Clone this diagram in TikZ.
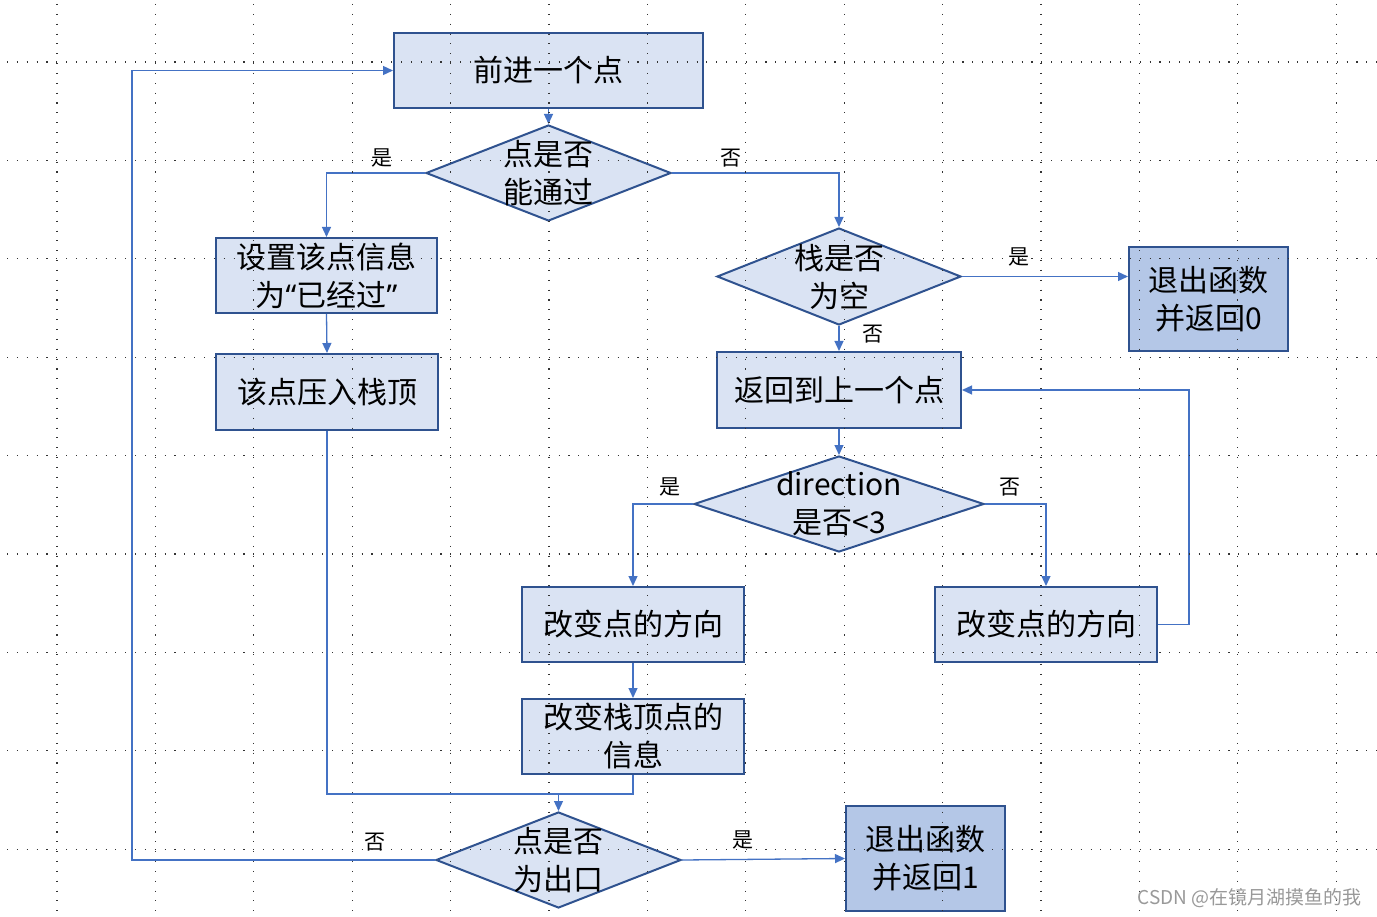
\documentclass[tikz,border=0pt]{standalone}
\usepackage{fontspec}
\setmainfont{Noto Sans CJK SC}
\newfontfamily\qfont{Noto Sans}
\usetikzlibrary{shapes.geometric,arrows.meta}
\definecolor{boxf}{HTML}{DAE3F3}
\definecolor{boxd}{HTML}{B4C7E7}
\definecolor{boxb}{HTML}{2F528F}
\definecolor{lnc}{HTML}{4472C4}
\tikzset{
  box/.style={draw=boxb, fill=boxf, line width=2pt, inner sep=0pt, align=center,
    font=\fontsize{30}{38}\selectfont},
  darkbox/.style={box, fill=boxd},
  dia/.style={draw=boxb, fill=boxf, line width=2pt, shape=diamond, inner sep=0pt},
  dtxt/.style={align=center, inner sep=0pt, font=\fontsize{30}{38}\selectfont},
  conn/.style={draw=lnc, line width=1.3pt, -{Triangle[length=10pt,width=9pt]}},
  plain/.style={draw=lnc, line width=1.3pt},
  lbl/.style={inner sep=0pt, font=\fontsize{21}{24}\selectfont},
  griddot/.style={line width=1.1pt, dash pattern=on 1.1pt off 8.75pt, black!80}
}
\begin{document}
\begin{tikzpicture}[x=1pt,y=1pt]
\useasboundingbox (0,0) rectangle (1377,-917);
\fill[white] (0,0) rectangle (1377,-917);

% nodes
\node[box, minimum width=309pt, minimum height=75pt] (b1) at (548.5,-70.5) {前进一个点};
\node[dia, minimum width=245pt, minimum height=96pt] (d2) at (548.5,-173) {};
\node[dtxt] (t2) at (d2) {点是否\\能通过};
\node[box, minimum width=221pt, minimum height=75pt] (b3) at (326.5,-275.5) {设置该点信息\\为{\qfont “}已经过{\qfont ”}};
\node[box, minimum width=222pt, minimum height=76pt] (b4) at (327,-392) {该点压入栈顶};
\node[dia, minimum width=244pt, minimum height=97pt] (d5) at (839,-276.5) {};
\node[dtxt] (t5) at (d5) {栈是否\\为空};
\node[darkbox, minimum width=159pt, minimum height=104pt] (b6) at (1208.5,-299) {退出函数\\并返回0};
\node[box, minimum width=244pt, minimum height=76pt] (b7) at (839,-390) {返回到上一个点};
\node[dia, minimum width=290pt, minimum height=96pt] (d8) at (839,-504) {};
\node[dtxt] (t8) at (d8) {direction\\是否<3};
\node[box, minimum width=222pt, minimum height=75pt] (b9) at (633,-624.5) {改变点的方向};
\node[box, minimum width=222pt, minimum height=75pt] (b10) at (1046,-624.5) {改变点的方向};
\node[box, minimum width=222pt, minimum height=75pt] (b11) at (633,-736.5) {改变栈顶点的\\信息};
\node[dia, minimum width=245pt, minimum height=96pt] (d12) at (558.5,-860) {};
\node[dtxt] (t12) at (d12) {点是否\\为出口};
\node[darkbox, minimum width=159pt, minimum height=105pt] (b13) at (925.5,-858.5) {退出函数\\并返回1};

% connectors
\coordinate (mj) at (558.5,-794);
\draw[conn] (b1.south) -- (d2.north);
\draw[conn] (d2.west) -| (b3.north);
\draw[conn] (d2.east) -| (d5.north);
\draw[conn] (b3.south) -- (b4.north);
\draw[conn] (d5.east) -- (d5.east -| b6.west);
\draw[conn] (d5.south) -- (b7.north);
\draw[conn] (b7.south) -- (d8.north);
\draw[conn] (d8.west) -| (b9.north);
\draw[conn] (d8.east) -| (b10.north);
\draw[conn] (b10.east) -- ++(31,0) |- (b7.east);
\draw[conn] (b9.south) -- (b11.north);
\draw[conn] (b4.south) |- (mj) -- (d12.north);
\draw[plain] (b11.south) |- (mj);
\draw[conn] (d12.west) -- ++(-303,0) |- (b1.west);
\draw[conn] (d12.east) -- (b13.west);

% labels
\node[lbl] (l1) at (382,-158) {是};
\node[lbl] (l2) at (731,-158) {否};
\node[lbl] (l3) at (1019,-257) {是};
\node[lbl] (l4) at (873,-334) {否};
\node[lbl] (l5) at (670,-487) {是};
\node[lbl] (l6) at (1010,-487) {否};
\node[lbl] (l7) at (375,-842) {否};
\node[lbl] (l8) at (743,-840) {是};

% dotted grid
\foreach \k in {0,...,8} {
  \draw[griddot] (7,{-62-98.4*\k}) -- (1377,{-62-98.4*\k});
}
\foreach \k in {0,...,13} {
  \draw[griddot] ({57+98.4*\k},-4) -- ({57+98.4*\k},-917);
}

% watermark
\node[anchor=east, inner sep=0pt, text=black!40, font=\fontsize{19}{22}\selectfont] (wm) at (1362,-898) {CSDN @在镜月湖摸鱼的我};
\end{tikzpicture}
\end{document}
